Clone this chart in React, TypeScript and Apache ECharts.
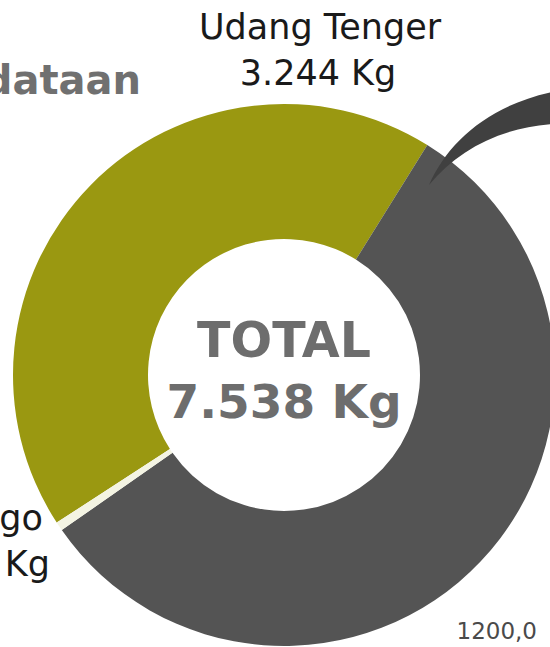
import React, { useEffect, useRef } from "react";
import * as echarts from "echarts";

const categories = ["Udang Tenger", "Udang Lainnya", "Udang Senggo"];
const values = [3244, 4254, 40];
const colors = ["#9a9811", "#545454", "#f4f4e3"];
const titleText = "Pendataan";
const footText = "1200,0";

const fmt = (n: number) => n.toLocaleString("de-DE") + " Kg";
const total = values.reduce((a, b) => a + b, 0);

const ARROW_D =
  "M 429 185 C 448 142, 488 106, 552 92 L 552 124 C 500 128, 458 150, 429 185 Z";

let registered = false;

export default function App() {
  const ref = useRef<HTMLDivElement>(null);
  useEffect(() => {
    if (!registered) {
      echarts.graphic.registerShape("arrowCurve", echarts.graphic.extendPath(ARROW_D, {}) as any);
      registered = true;
    }
    const chart = echarts.init(ref.current!, null, { renderer: "svg" });
    const light = 'normal 35px "DejaVu Sans"';
    const txt = (text: string, x: number, y: number, font: string, fill: string, align: string) => ({
      type: "text",
      x,
      y,
      z: 100,
      style: {
        text,
        font,
        fill,
        align,
        verticalAlign: "middle",
        textAlign: align,
        textVerticalAlign: "middle",
      },
    });
    chart.setOption({
      animation: false,
      backgroundColor: "#ffffff",
      series: [
        {
          type: "pie",
          center: [284, 375],
          radius: [136, 271],
          startAngle: -147,
          clockwise: true,
          silent: true,
          label: { show: false },
          labelLine: { show: false },
          data: categories.map((c, i) => ({
            name: c,
            value: values[i],
            itemStyle: { color: colors[i] },
          })),
        },
      ],
      graphic: [
        txt(titleText, 141, 80, 'bold 40px "DejaVu Sans"', "#707070", "right"),
        txt(categories[0], 320, 27, light, "#1a1a1a", "center"),
        txt(fmt(values[0]), 318, 73, light, "#1a1a1a", "center"),
        txt(categories[2].split(" ").pop()!.slice(-2), 43, 518, light, "#1a1a1a", "right"),
        txt(fmt(values[2]), 50, 564, light, "#1a1a1a", "right"),
        txt("TOTAL", 284, 340, 'bold 49px "DejaVu Sans"', "#6d6d6d", "center"),
        txt(fmt(total), 284, 401, 'bold 47px "DejaVu Sans"', "#6d6d6d", "center"),
        txt(footText, 537, 631, 'normal 23px "DejaVu Sans"', "#4a4a4a", "right"),
        {
          type: "arrowCurve",
          x: 0,
          y: 0,
          z: 90,
          style: { fill: "#404040" },
        },
      ],
    });
    return () => chart.dispose();
  }, []);
  return (
    <div
      ref={ref}
      style={{ position: "fixed", left: 0, top: 0, width: 550, height: 647 }}
    />
  );
}
